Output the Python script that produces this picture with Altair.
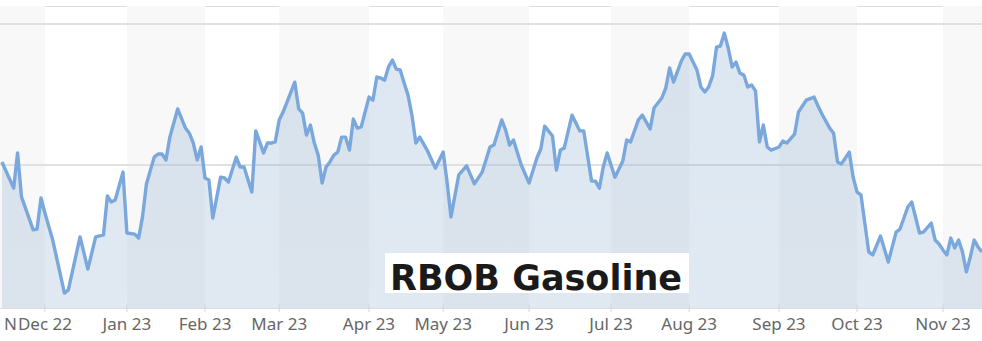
import altair as alt
import pandas as pd

# Trading-day index (0 = mid Nov 2022) and RBOB Gasoline price ($/gal)
day = [0, 3, 4, 5, 8, 9, 10, 11, 13, 16, 17, 20, 22, 24, 26, 27, 28, 29, 31, 32,
       34, 35, 36, 37, 39, 40, 41, 42, 43, 45, 47, 48, 49, 50, 51, 52, 53, 54, 56, 57,
       58, 60, 61, 62, 64, 65, 67, 68, 69, 70, 71, 72, 75, 76, 77, 78, 79, 80, 81, 82,
       83, 84, 85, 86, 87, 88, 89, 90, 91, 92, 94, 95, 96, 97, 98, 99, 100, 101, 102, 103,
       104, 105, 106, 107, 109, 111, 113, 114, 115, 117, 119, 121, 123, 125, 126, 128, 129, 130, 131, 133,
       135, 137, 138, 139, 141, 142, 143, 144, 146, 148, 149, 151, 152, 153, 154, 155, 157, 159, 160, 161,
       163, 164, 166, 167, 169, 170, 171, 172, 174, 175, 176, 178, 179, 180, 181, 182, 183, 184, 185, 186,
       187, 188, 189, 190, 191, 192, 193, 194, 195, 196, 197, 199, 200, 201, 203, 204, 206, 208, 209, 210,
       212, 213, 214, 215, 217, 218, 219, 220, 222, 223, 225, 227, 229, 230, 232, 233, 235, 236, 238, 239,
       240, 241, 242, 243, 244, 245, 246, 247, 248, 249, 250, 251]
price = [2.511, 2.418, 2.543, 2.387, 2.270, 2.273, 2.383, 2.330, 2.234, 2.046, 2.057, 2.245, 2.131, 2.245, 2.252, 2.390, 2.369, 2.376, 2.475, 2.259,
         2.255, 2.241, 2.316, 2.433, 2.528, 2.539, 2.539, 2.518, 2.599, 2.699, 2.631, 2.613, 2.578, 2.518, 2.564, 2.454, 2.447, 2.312, 2.457, 2.454,
         2.440, 2.528, 2.493, 2.493, 2.404, 2.621, 2.543, 2.578, 2.578, 2.582, 2.660, 2.688, 2.794, 2.699, 2.684, 2.606, 2.642, 2.578, 2.535, 2.436,
         2.493, 2.511, 2.535, 2.546, 2.599, 2.599, 2.553, 2.663, 2.631, 2.635, 2.741, 2.730, 2.812, 2.809, 2.801, 2.848, 2.872, 2.840, 2.837, 2.791,
         2.748, 2.677, 2.578, 2.599, 2.550, 2.489, 2.546, 2.440, 2.316, 2.465, 2.497, 2.433, 2.475, 2.564, 2.571, 2.660, 2.624, 2.571, 2.589, 2.500,
         2.436, 2.525, 2.557, 2.638, 2.603, 2.482, 2.553, 2.560, 2.677, 2.621, 2.621, 2.443, 2.443, 2.418, 2.493, 2.543, 2.457, 2.514, 2.589, 2.582,
         2.660, 2.677, 2.628, 2.702, 2.738, 2.773, 2.844, 2.794, 2.869, 2.894, 2.894, 2.837, 2.777, 2.759, 2.777, 2.816, 2.918, 2.922, 2.968, 2.915,
         2.848, 2.865, 2.826, 2.819, 2.777, 2.784, 2.762, 2.582, 2.642, 2.564, 2.553, 2.564, 2.585, 2.578, 2.610, 2.688, 2.730, 2.741, 2.709, 2.681,
         2.631, 2.613, 2.511, 2.504, 2.546, 2.457, 2.404, 2.394, 2.192, 2.181, 2.248, 2.156, 2.262, 2.273, 2.351, 2.369, 2.259, 2.262, 2.294, 2.234,
         2.220, 2.199, 2.181, 2.241, 2.206, 2.234, 2.192, 2.121, 2.174, 2.234, 2.209, 2.192]

# First trading day of each month (tick positions) and their labels
month_start_day = [11, 32, 52, 71, 94, 113, 135, 156, 176, 199, 219, 241]
month_label = ["Dec 22", "Jan 23", "Feb 23", "Mar 23", "Apr 23", "May 23",
               "Jun 23", "Jul 23", "Aug 23", "Sep 23", "Oct 23", "Nov 23"]
first_label = "N"
grid_values = [2.5, 3.0]
title_text = "RBOB Gasoline"

X_MIN, X_MAX = -0.5, 251
Y_MIN, Y_MAX = 1.993, 3.064
W, H = 982, 302

df = pd.DataFrame({"day": day, "price": price})

edges = [X_MIN] + month_start_day + [X_MAX]
bands = pd.DataFrame({
    "start": [edges[i] for i in range(len(edges) - 1) if i % 2 == 0],
    "end": [edges[i + 1] for i in range(len(edges) - 1) if i % 2 == 0],
})
grid_df = pd.DataFrame({"v": grid_values})
ticks_df = pd.DataFrame({"day": month_start_day, "label": month_label})

xscale = alt.Scale(domain=[X_MIN, X_MAX], nice=False, zero=False)
yscale = alt.Scale(domain=[Y_MIN, Y_MAX], nice=False, zero=False)

band_layer = alt.Chart(bands).mark_rect(color="#f8f8f8").encode(
    x=alt.X("start:Q", scale=xscale, axis=None),
    x2="end:Q",
    y=alt.value(0),
    y2=alt.value(H),
)

grid_layer = alt.Chart(grid_df).mark_rule(color="#e1e1e1", strokeWidth=2).encode(
    y=alt.Y("v:Q", scale=yscale, axis=None)
)

area_layer = alt.Chart(df).mark_area(
    clip=True,
    color=alt.Gradient(
        gradient="linear",
        stops=[alt.GradientStop(color="rgba(120,160,200,0.25)", offset=0),
               alt.GradientStop(color="rgba(120,160,200,0.18)", offset=1)],
        x1=1, x2=1, y1=0, y2=1,
    )
).encode(
    x=alt.X("day:Q", scale=xscale, axis=None),
    y=alt.Y("price:Q", scale=yscale, axis=None),
)

line_layer = alt.Chart(df).mark_line(color="#7aa7dc", strokeWidth=3.4, strokeJoin="round").encode(
    x=alt.X("day:Q", scale=xscale, axis=None),
    y=alt.Y("price:Q", scale=yscale, axis=None),
)

# month tick marks and labels below the plot
tick_marks = alt.Chart(ticks_df).mark_rule(color="#d6d6d6", strokeWidth=1).encode(
    x=alt.X("day:Q", scale=xscale, axis=None),
    y=alt.value(H - 4),
    y2=alt.value(H + 4),
)
tick_labels = alt.Chart(ticks_df).mark_text(
    font="Noto Sans", fontSize=17, color="#666666", align="center", baseline="middle"
).encode(
    x=alt.X("day:Q", scale=xscale, axis=None),
    y=alt.value(H + 17),
    text="label:N",
)

title_df = pd.DataFrame({"label": [title_text]})
title_box = alt.Chart(title_df).mark_rect(color="white").encode(
    x=alt.value(385), x2=alt.value(689), y=alt.value(247), y2=alt.value(287)
)
title_mark = alt.Chart(title_df).mark_text(
    font="DejaVu Sans", fontWeight="bold", fontSize=35, color="#1a1a1a",
    align="center", baseline="alphabetic"
).encode(x=alt.value(536), y=alt.value(284), text="label:N")

n_df = pd.DataFrame({"label": [first_label]})
n_mark = alt.Chart(n_df).mark_text(
    font="Noto Sans", fontSize=17, color="#666666", align="left", baseline="middle"
).encode(x=alt.value(4), y=alt.value(H + 17), text="label:N")

chart = alt.layer(
    band_layer, grid_layer, area_layer, line_layer, tick_marks, tick_labels,
    title_box, title_mark, n_mark
).properties(
    width=W, height=H,
    autosize=alt.AutoSizeParams(type="none"),
    padding={"left": 0, "top": 6, "right": 0, "bottom": 33},
).configure_view(stroke=None).configure(background="white")

chart.save("out.html", embed_options={"renderer": "svg", "actions": False})
